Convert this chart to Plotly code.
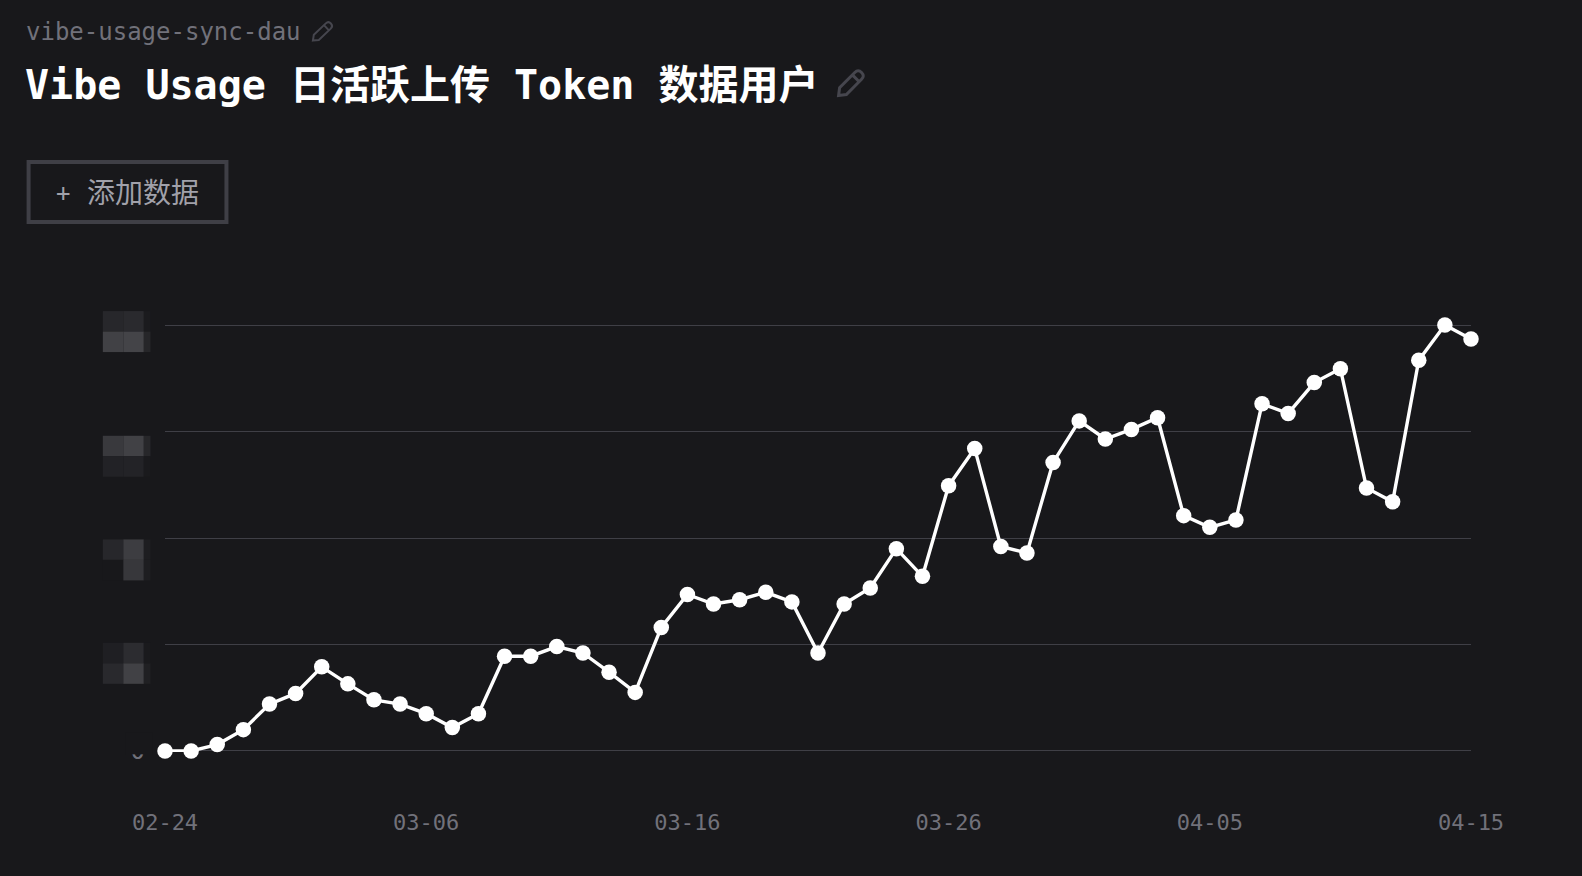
import plotly.graph_objects as go

# Daily active users who uploaded token data
dates = ["02-24","02-25","02-26","02-27","02-28","03-01","03-02","03-03","03-04","03-05",
         "03-06","03-07","03-08","03-09","03-10","03-11","03-12","03-13","03-14","03-15",
         "03-16","03-17","03-18","03-19","03-20","03-21","03-22","03-23","03-24","03-25",
         "03-26","03-27","03-28","03-29","03-30","03-31","04-01","04-02","04-03","04-04",
         "04-05","04-06","04-07","04-08","04-09","04-10","04-11","04-12","04-13","04-14","04-15"]
users = [0,0,6,20,44,54,79,63,48,44,35,22,35,89,89,98,92,74,55,116,
         147,138,142,149,140,92,138,153,190,164,249,284,192,186,271,310,293,302,313,221,
         210,217,326,317,346,359,247,234,367,400,387]
x_ticks = ["02-24","03-06","03-16","03-26","04-05","04-15"]
y_ticks = [0,100,200,300,400]
y_tick_text = ["0","","","",""]

BG = "#18181b"
GRID = "#3f3f46"
MUTED = "#71717a"
MONO = "'DejaVu Sans Mono','Noto Sans CJK SC',monospace"

W, H = 1582, 876
L, R, T, B = 164.5, 1471.3, 325.0, 750.8
# The y range runs slightly past the outer ticks so that their grid lines are kept
Y_PAD = 1.0
PAD_PX = Y_PAD * (B - T) / (y_ticks[-1] - y_ticks[0])

def px(x):
    return (x - L) / (R - L)

def py(y):
    return (B + PAD_PX - y) / (B - T + 2 * PAD_PX)

def rect(x0, y0, x1, y1, fill, line=None, width=0):
    return dict(type="rect", xref="paper", yref="paper", layer="above",
                x0=px(x0), x1=px(x1), y0=py(y0), y1=py(y1),
                fillcolor=fill, line=dict(color=line or fill, width=width))

def pencil(tx, ty, ex, ey, half, width):
    # Outline of a slanted pencil from its tip (tx, ty) to its rounded end (ex, ey)
    dx, dy = ex - tx, ey - ty
    n = (dx * dx + dy * dy) ** 0.5
    ux, uy = dx / n, dy / n
    nx, ny = -uy, ux

    def p(a, b):
        return f"{px(tx + ux * a + nx * b):.5f},{py(ty + uy * a + ny * b):.5f}"

    head = n - half
    body = (f"M{p(0, 0)} L{p(half * 1.3, half)} L{p(head, half)} "
            f"Q{p(n, half)} {p(n, 0)} Q{p(n, -half)} {p(head, -half)} "
            f"L{p(half * 1.3, -half)} Z M{p(head - half * 0.7, half)} L{p(head - half * 0.7, -half)}")
    return dict(type="path", xref="paper", yref="paper", layer="above", path=body,
                line=dict(color="#46464e", width=width))

# Obscured y-axis labels: rows of mosaic tiles, one group per tick
CELL = 20.5
TILE_X = [102.3, 122.8]
STRIP_X = (143.3, 150)
mosaic_tops = [311.0, 435.7, 539.3, 642.7]
mosaic_fill = [
    [["#27272b", "#2a2a2e", "#1b1b1e"], ["#414145", "#444448", "#262629"]],
    [["#39393d", "#414145", "#27272a"], ["#222226", "#232327", "#1a1a1d"]],
    [["#27272b", "#3d3d41", "#1e1e21"], [BG, "#37373b", "#1e1e21"]],
    [["#1f1f23", "#2c2c30", "#1a1a1d"], ["#29292d", "#414145", "#202023"]],
]

shapes = [
    # Cover for the upper part of the zero label
    rect(125, 732, 152, 754.2, BG),
    # Button outline
    rect(28, 162, 226, 222, "rgba(0,0,0,0)", "#3f3f46", 4),
    pencil(312.5, 40.5, 330.5, 23.5, 3.6, 2),
    pencil(838.5, 95.5, 861.5, 72.5, 4.8, 3),
]
for top, rows in zip(mosaic_tops, mosaic_fill):
    for r, row in enumerate(rows):
        y0 = top + r * CELL
        shapes.append(rect(TILE_X[0], y0, TILE_X[1], y0 + CELL, row[0]))
        shapes.append(rect(TILE_X[1], y0, STRIP_X[0], y0 + CELL, row[1]))
        shapes.append(rect(STRIP_X[0], y0, STRIP_X[1], y0 + CELL, row[2]))

def label(text, x, y, size, color, anchor="left", bold=False):
    return dict(text=f"<b>{text}</b>" if bold else text, xref="paper", yref="paper",
                x=px(x), y=py(y), xanchor=anchor, yanchor="middle", showarrow=False,
                borderpad=0, borderwidth=0,
                font=dict(family=MONO, size=size, color=color))

annotations = [
    label("vibe-usage-sync-dau", 25.5, 32, 24, MUTED),
    label("Vibe Usage 日活跃上传 Token 数据用户", 24.5, 84.5, 40, "#ffffff", bold=True),
    label("+", 62, 193, 24, "#a1a1aa", anchor="center"),
    label("添加数据", 86, 193.5, 28, "#a1a1aa"),
]

fig = go.Figure(go.Scatter(
    x=dates, y=users, mode="lines+markers", cliponaxis=False,
    line=dict(color="#ffffff", width=3.4),
    marker=dict(color="#ffffff", size=15.5, line=dict(width=0)),
    showlegend=False,
))
fig.update_layout(
    width=W, height=H, paper_bgcolor=BG, plot_bgcolor=BG,
    margin=dict(l=L, r=W - R, t=T - PAD_PX, b=H - B - PAD_PX, pad=0, autoexpand=False),
    shapes=shapes, annotations=annotations, showlegend=False,
    xaxis=dict(type="category", categoryorder="array", categoryarray=dates,
               range=[0, len(dates) - 1], tickmode="array", tickvals=x_ticks, ticktext=x_ticks,
               showgrid=False, zeroline=False, showline=False, ticks="",
               ticklabelstandoff=55,
               tickfont=dict(family=MONO, size=22, color=MUTED)),
    yaxis=dict(range=[-Y_PAD, y_ticks[-1] + Y_PAD], tickmode="array", tickvals=y_ticks,
               ticktext=y_tick_text, showgrid=True, gridcolor=GRID, gridwidth=1,
               zeroline=False, showline=False, ticks="", ticklabelstandoff=19,
               tickfont=dict(family=MONO, size=24, color=MUTED)),
)
fig.write_html("out.html", config=dict(displayModeBar=False))
